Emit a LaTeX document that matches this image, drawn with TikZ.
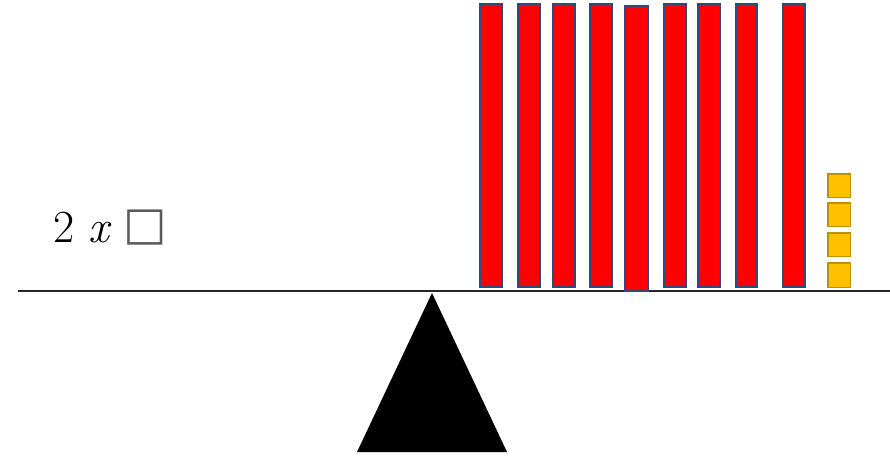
\documentclass[tikz,border=0pt]{standalone}
\usepackage{fontspec}
\newfontfamily\symfont{DejaVu Sans}
\definecolor{barred}{HTML}{FF0000}
\definecolor{barline}{HTML}{2F4A7A}
\definecolor{cubefill}{HTML}{FFC000}
\definecolor{cubeline}{HTML}{BF9000}
\definecolor{boxgray}{HTML}{5A5A5A}
\tikzset{
  bar/.style={fill=barred,draw=barline,line width=2pt},
  cube/.style={fill=cubefill,draw=cubeline,line width=1.5pt},
  beam/.style={line width=2pt,draw=black!85},
}
\begin{document}
\begin{tikzpicture}[x=1pt,y=-1pt]
\useasboundingbox (0,0) rectangle (890,455);
% beam
\coordinate (bl) at (18,290.5);
\coordinate (br) at (890,290.5);
\draw[beam] (bl) -- (br);
% fulcrum
\fill[black] (357,452) -- (507,452) -- (432,293) -- cycle;
% red bars
\foreach \a/\b/\t/\u in {479/503/3/288,517/541/3/288,552/576/3/288,589/613/3/288,624/649/5/292,663/687/3/288,697/721/3/288,735/758/3/288,782/806/3/288}{
  \path[bar] (\a+1,\t+1) rectangle (\b-1,\u-1);
}
% yellow cubes
\foreach \t/\u in {173/198,202/227,232/257,262/288}{
  \path[cube] (827.75,\t+0.75) rectangle (850.25,\u-0.75);
}
% label
\node[anchor=base west,inner sep=0pt,font=\fontsize{46}{52}\selectfont] (lbl) at (53,242)
  {2\hspace{14pt}\textit{x}\hspace{12pt}\raisebox{3pt}{\textcolor{boxgray}{\symfont □}}};
\end{tikzpicture}
\end{document}
